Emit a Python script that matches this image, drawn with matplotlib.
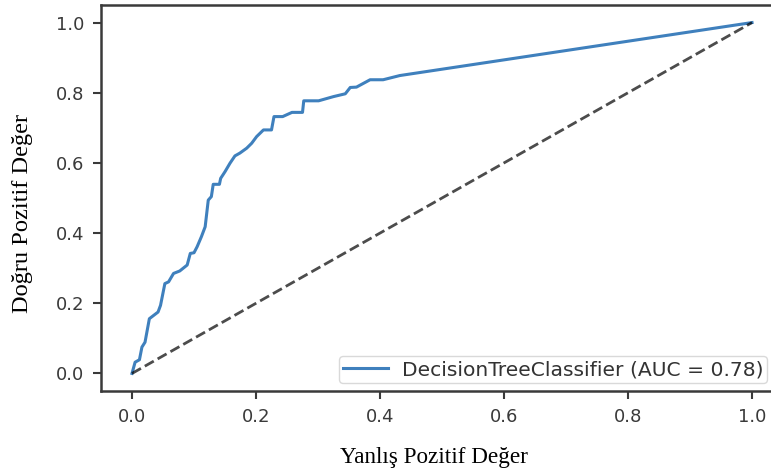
import matplotlib
matplotlib.use('Agg')
import matplotlib.pyplot as plt

# ROC noktalari (DecisionTreeClassifier)
fpr = [0.0, 0.005, 0.012, 0.016, 0.021, 0.028, 0.042, 0.046, 0.053, 0.059,
       0.067, 0.077, 0.089, 0.094, 0.100, 0.105, 0.112, 0.118, 0.123, 0.128,
       0.131, 0.141, 0.143, 0.150, 0.158, 0.166, 0.174, 0.185, 0.193, 0.201,
       0.212, 0.225, 0.229, 0.243, 0.258, 0.275, 0.277, 0.301, 0.325, 0.344,
       0.352, 0.362, 0.384, 0.405, 0.432, 1.0]
tpr = [0.0, 0.032, 0.039, 0.075, 0.089, 0.156, 0.175, 0.194, 0.256, 0.261,
       0.285, 0.292, 0.309, 0.342, 0.344, 0.361, 0.390, 0.418, 0.494, 0.504,
       0.539, 0.539, 0.556, 0.575, 0.599, 0.620, 0.628, 0.642, 0.656, 0.675,
       0.694, 0.694, 0.732, 0.732, 0.744, 0.744, 0.777, 0.777, 0.789, 0.797,
       0.815, 0.816, 0.837, 0.837, 0.849, 1.0]
auc = 0.78
model_name = 'DecisionTreeClassifier'
ticks = [0.0, 0.2, 0.4, 0.6, 0.8, 1.0]

fig = plt.figure(figsize=(7.71, 4.73), dpi=100)
ax = fig.add_axes([0.131, 0.1734, 0.8846, 0.816])

ax.plot(fpr, tpr, color='#3f80bd', lw=2.2,
        label='%s (AUC = %.2f)' % (model_name, auc))
ax.plot([0, 1], [0, 1], color='k', alpha=0.7, ls='--', lw=2)

ax.set_xlim(-0.05, 1.05)
ax.set_ylim(-0.05, 1.05)
ax.set_xticks(ticks)
ax.set_yticks(ticks)
ax.tick_params(labelsize=13, labelcolor='#3a3a3a', color='#3a3a3a',
               length=6, width=1.5, pad=6)
for sp in ax.spines.values():
    sp.set_linewidth(1.8)
    sp.set_color('#3a3a3a')

leg = ax.legend(loc='lower right', bbox_to_anchor=(0.977, 0.02),
                fontsize=14.6, frameon=True, handlelength=2.2,
                handletextpad=0.7, borderpad=0.2, borderaxespad=0)
leg.get_frame().set_edgecolor('#d0d0d0')
for t in leg.get_texts():
    t.set_color('#333333')

# eksen basliklari
fig.text(0.563, 0.021, 'Yanlış Pozitif Değer', family='Liberation Serif',
         fontsize=16.7, ha='center', va='baseline')
fig.text(0.029, 0.548, 'Doğru Pozitif Değer', family='Liberation Serif',
         fontsize=17.6, ha='center', va='center', rotation=90)

plt.savefig('out.png', dpi=100)
